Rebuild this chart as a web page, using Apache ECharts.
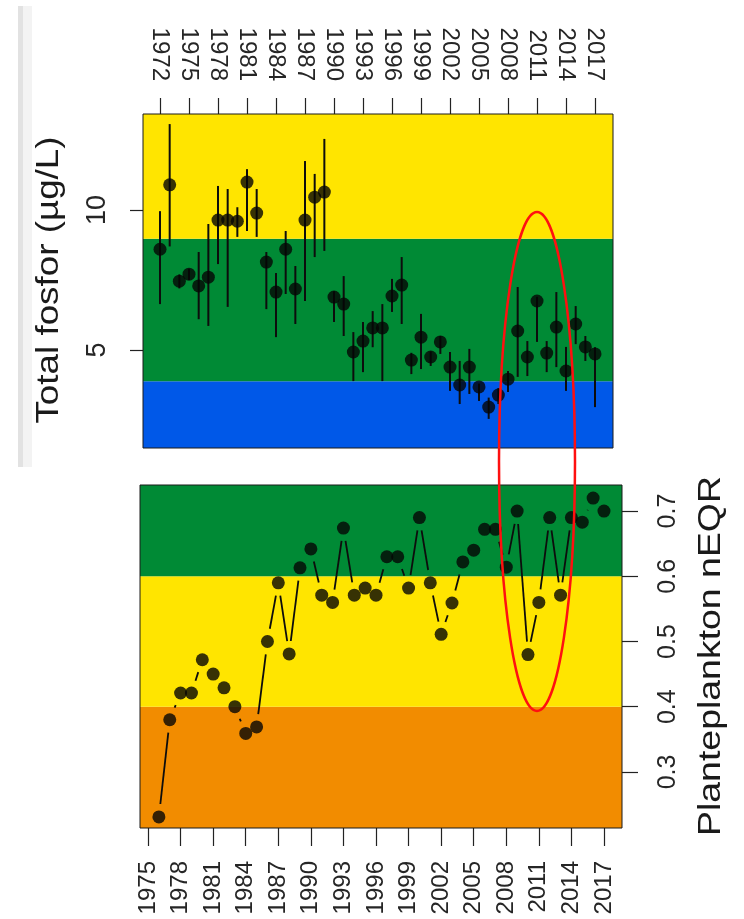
<!DOCTYPE html>
<html>
<head>
<meta charset="utf-8">
<script src="https://cdn.jsdelivr.net/npm/echarts@6/dist/echarts.min.js"></script>
<style>
html,body{margin:0;padding:0;background:#fff;}
#c{width:744px;height:919px;}
</style>
</head>
<body>
<div id="c"></div>
<script>
// ---- Top panel: Total fosfor (µg/L) ----
const tpYears = [1972,1973,1974,1975,1976,1977,1978,1979,1980,1981,1982,1983,1984,1985,1986,1987,1988,1989,1990,1991,1992,1993,1994,1995,1996,1997,1998,1999,2000,2001,2002,2003,2004,2005,2006,2007,2008,2009,2010,2011,2012,2013,2014,2015,2016,2017];
const tpValues = [8.6,10.9,7.46,7.71,7.29,7.6,9.64,9.64,9.6,11.0,9.89,8.14,7.07,8.6,7.18,9.64,10.46,10.64,6.89,6.64,4.93,5.32,5.79,5.79,6.93,7.32,4.64,5.46,4.75,5.29,4.39,3.75,4.39,3.68,2.96,3.39,3.96,5.68,4.75,6.75,4.89,5.82,4.25,5.93,5.11,4.86];
const tpHigh = [9.96,13.07,7.7,7.9,8.5,9.5,10.86,10.75,10.1,11.46,10.75,8.5,7.75,9.25,8.0,11.75,11.29,12.54,7.1,7.64,5.64,6.0,6.39,6.64,7.54,8.32,4.9,6.29,4.95,5.5,4.93,4.61,5.04,3.8,3.3,3.64,4.25,7.25,5.32,6.9,5.32,7.07,5.11,6.57,5.5,5.1];
const tpLow = [6.64,8.7,7.2,7.5,6.1,5.86,8.07,6.54,9.04,9.25,9.04,6.46,5.46,7.0,5.93,6.75,8.32,8.54,6.0,5.5,3.89,4.21,5.1,3.89,6.36,5.93,4.14,4.32,4.43,4.86,3.54,3.07,3.43,3.18,2.54,3.07,3.5,4.04,4.07,5.29,4.21,4.39,3.54,5.21,4.61,2.96];
const tpYearTicks = [1972,1975,1978,1981,1984,1987,1990,1993,1996,1999,2002,2005,2008,2011,2014,2017];
const tpValueTicks = [5,10];
const tpBandEdges = [1.5, 3.88, 8.97, 13.43]; // blue | green | yellow
const tpXRange = [1970.24, 2018.86];

// ---- Bottom panel: Planteplankton nEQR ----
const eqrYears = [1976,1977,1978,1979,1980,1981,1982,1983,1984,1985,1986,1987,1988,1989,1990,1991,1992,1993,1994,1995,1996,1997,1998,1999,2000,2001,2002,2003,2004,2005,2006,2007,2008,2009,2010,2011,2012,2013,2014,2015,2016,2017];
const eqrValues = [0.231,0.38,0.421,0.421,0.472,0.45,0.429,0.40,0.359,0.369,0.50,0.59,0.481,0.613,0.642,0.571,0.56,0.674,0.571,0.582,0.571,0.63,0.63,0.582,0.69,0.59,0.511,0.559,0.622,0.64,0.672,0.672,0.614,0.70,0.48,0.56,0.69,0.571,0.69,0.683,0.72,0.70];
const eqrYearTicks = [1975,1978,1981,1984,1987,1990,1993,1996,1999,2002,2005,2008,2011,2014,2017];
const eqrValueTicks = [0.3,0.4,0.5,0.6,0.7];
const eqrBandEdges = [0.214, 0.4, 0.6, 0.74]; // orange | yellow | green
const eqrXRange = [1974.26, 2018.66];

const FONT = "'Liberation Sans', Arial, Helvetica, sans-serif";
const C_YELLOW = '#ffe500', C_GREEN = '#008a35', C_BLUE = '#0058e8', C_ORANGE = '#f28c00';
const TXT = '#262626';

const chart = echarts.init(document.getElementById('c'), null, {renderer: 'canvas'});

function bands(edges, colors) {
  const out = [];
  for (let i = 0; i < edges.length - 1; i++) {
    out.push([{yAxis: edges[i], itemStyle: {color: colors[i], opacity: 1}}, {yAxis: edges[i + 1]}]);
  }
  return out;
}

const option = {
  animation: false,
  backgroundColor: '#fff',
  grid: [
    {left: 143, top: 114, width: 470, height: 334, show: true, z: 10, backgroundColor: 'transparent', borderColor: '#1a1a1a', borderWidth: 1},
    {left: 140, top: 485, width: 482, height: 343, show: true, z: 10, backgroundColor: 'transparent', borderColor: '#1a1a1a', borderWidth: 1}
  ],
  xAxis: [
    {
      gridIndex: 0, type: 'value', position: 'top', min: tpXRange[0], max: tpXRange[1],
      axisLine: {show: false}, splitLine: {show: false},
      axisTick: {show: true, inside: false, length: 16, customValues: tpYearTicks, lineStyle: {color: '#222', width: 1.2}},
      axisLabel: {show: true, rotate: 90, margin: 33, customValues: tpYearTicks, color: TXT, fontSize: 24, fontFamily: FONT, formatter: v => String(v)}
    },
    {
      gridIndex: 1, type: 'value', position: 'bottom', min: eqrXRange[0], max: eqrXRange[1],
      axisLine: {show: false}, splitLine: {show: false},
      axisTick: {show: true, inside: false, length: 18, customValues: eqrYearTicks, lineStyle: {color: '#222', width: 1.2}},
      axisLabel: {show: true, rotate: 90, margin: 33, customValues: eqrYearTicks, color: TXT, fontSize: 24, fontFamily: FONT, formatter: v => String(v)}
    }
  ],
  yAxis: [
    {
      gridIndex: 0, type: 'value', position: 'left', min: tpBandEdges[0], max: tpBandEdges[3],
      axisLine: {show: false}, splitLine: {show: false},
      axisTick: {show: true, inside: false, length: 13, customValues: tpValueTicks, lineStyle: {color: '#222', width: 1.2}},
      axisLabel: {show: true, rotate: 90, margin: 32, customValues: tpValueTicks, color: TXT, fontSize: 27, fontFamily: FONT, formatter: v => String(v)}
    },
    {
      gridIndex: 1, type: 'value', position: 'right', min: eqrBandEdges[0], max: eqrBandEdges[3],
      axisLine: {show: false}, splitLine: {show: false},
      axisTick: {show: true, inside: false, length: 16, customValues: eqrValueTicks, lineStyle: {color: '#222', width: 1.2}},
      axisLabel: {show: true, rotate: 90, margin: 34, customValues: eqrValueTicks, color: TXT, fontSize: 25, fontFamily: FONT, formatter: v => v.toFixed(1)}
    }
  ],
  series: [
    // top: error bars
    {
      type: 'custom', xAxisIndex: 0, yAxisIndex: 0, z: 3, silent: true,
      data: tpYears.map((y, i) => [y, tpLow[i], tpHigh[i]]),
      encode: {x: 0, y: [1, 2]},
      renderItem: function (params, api) {
        const a = api.coord([api.value(0), api.value(1)]);
        const b = api.coord([api.value(0), api.value(2)]);
        return {type: 'line', shape: {x1: a[0], y1: a[1], x2: b[0], y2: b[1]}, style: {stroke: '#0d0d0d', lineWidth: 2}};
      },
      markArea: {silent: true, data: bands(tpBandEdges, [C_BLUE, C_GREEN, C_YELLOW])}
    },
    // top: points
    {
      type: 'scatter', xAxisIndex: 0, yAxisIndex: 0, z: 4, silent: true,
      symbol: 'circle', symbolSize: 13,
      itemStyle: {color: '#050505'},
      data: tpYears.map((y, i) => [y, tpValues[i]])
    },
    // bottom: gapped connecting lines (R type = "b")
    {
      type: 'custom', xAxisIndex: 1, yAxisIndex: 1, z: 3, silent: true,
      data: eqrYears.slice(0, -1).map((y, i) => [y, eqrValues[i], eqrYears[i + 1], eqrValues[i + 1]]),
      encode: {x: [0, 2], y: [1, 3]},
      renderItem: function (params, api) {
        const a = api.coord([api.value(0), api.value(1)]);
        const b = api.coord([api.value(2), api.value(3)]);
        const dx = b[0] - a[0], dy = b[1] - a[1];
        const d = Math.sqrt(dx * dx + dy * dy);
        const gap = 13;
        if (d <= 2 * gap) return null;
        const ux = dx / d, uy = dy / d;
        return {type: 'line', shape: {x1: a[0] + ux * gap, y1: a[1] + uy * gap, x2: b[0] - ux * gap, y2: b[1] - uy * gap}, style: {stroke: '#0d0d0d', lineWidth: 1.8}};
      },
      markArea: {silent: true, data: bands(eqrBandEdges, [C_ORANGE, C_YELLOW, C_GREEN])}
    },
    // bottom: points
    {
      type: 'scatter', xAxisIndex: 1, yAxisIndex: 1, z: 4, silent: true,
      symbol: 'circle', symbolSize: 13,
      itemStyle: {color: '#050505'},
      data: eqrYears.map((y, i) => [y, eqrValues[i]])
    }
  ],
  graphic: [
    {type: 'rect', z: 1, shape: {x: 18, y: 6, width: 5, height: 461}, style: {fill: '#e2e2e2'}},
    {type: 'rect', z: 1, shape: {x: 23, y: 6, width: 9, height: 461}, style: {fill: '#f3f3f3'}},
    {
      type: 'text', z: 20, x: 49, y: 280, rotation: Math.PI / 2, scaleX: 1.15, scaleY: 1,
      style: {text: 'Total fosfor (µg/L)', fontSize: 32, fontFamily: FONT, fill: '#1a1a1a', align: 'center', verticalAlign: 'middle'}
    },
    {
      type: 'text', z: 20, x: 711, y: 656, rotation: Math.PI / 2, scaleX: 1.17, scaleY: 1,
      style: {text: 'Planteplankton nEQR', fontSize: 32, fontFamily: FONT, fill: '#1a1a1a', align: 'center', verticalAlign: 'middle'}
    },
    {
      type: 'ellipse', z: 30, silent: true,
      shape: {cx: 537, cy: 461.5, rx: 38, ry: 249.5},
      style: {fill: 'none', stroke: '#ff1010', lineWidth: 2.5}
    }
  ]
};
chart.setOption(option);
</script>
</body>
</html>
